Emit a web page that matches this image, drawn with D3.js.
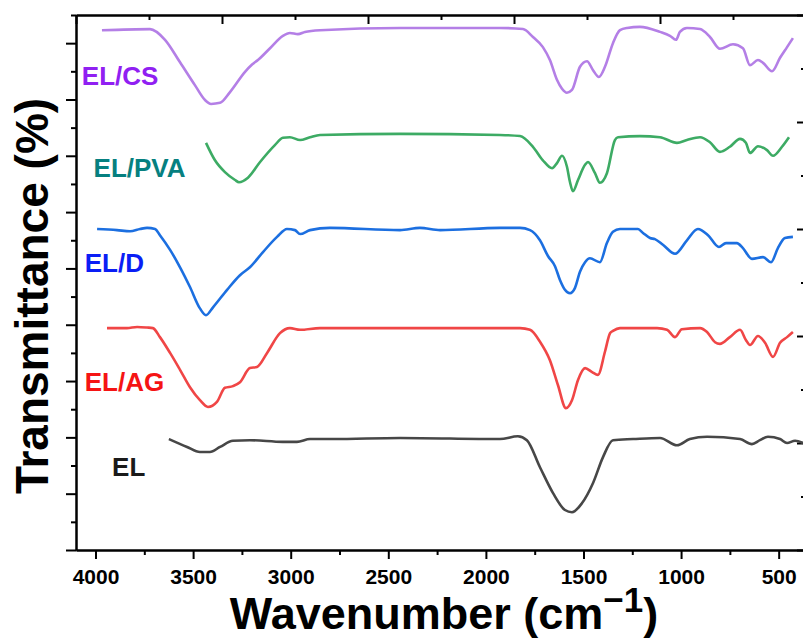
<!DOCTYPE html>
<html>
  <head>
    <meta charset="utf-8">
    <script src="https://d3js.org/d3.v7.min.js"></script>
    <title>FTIR spectra</title>
    <style>
      body { margin: 0; background: #fff; }
      text { font-family: "Liberation Sans", Arial, sans-serif; font-weight: bold; }
      .axis path, .axis line { stroke: #000; stroke-width: 2; }
      .axis text { font-size: 21px; fill: #000; }
    </style>
  </head>
  <body>
    <svg width="803" height="640"></svg>
    <script>
      // wavenumber (cm-1) and transmittance (offset, arb. units)
      const csWave = [3967,3721,3644,3567,3490,3439,3408,3362,3311,3234,3198,3168,3106,3040,3004,2963,2927,2850,2440,1928,1810,1759,1708,1672,1636,1610,1585,1559,1518,1482,1451,1421,1390,1349,1313,1277,1211,1108,1057,1026,1006,970,903,852,801,734,683,647,606,580,534,493,457,427];
      const csT = [92.3,92.5,90.6,86.6,82.5,79.9,79.2,79.4,81.3,84.9,86.2,87.0,89.1,91.3,91.8,91.6,92.0,92.3,92.7,92.7,92.5,91.1,89.3,87.0,83.5,81.9,81.2,81.7,85.8,86.8,85.2,84.0,85.8,90.0,92.3,92.7,92.9,92.0,91.3,90.6,92.0,92.7,92.5,91.1,89.0,89.8,89.1,86.1,87.0,86.5,85.0,87.4,89.3,90.9];

      const pvaWave = [3434,3388,3337,3285,3265,3219,3157,3081,3040,3004,2952,2901,2850,2440,1928,1825,1759,1708,1661,1636,1610,1585,1569,1554,1528,1492,1477,1441,1416,1380,1339,1323,1211,1108,1021,970,903,852,801,750,698,668,647,606,560,529,483,447];
      const pvaT = [72.3,69.2,67.1,65.7,65.3,66.1,68.9,71.9,73.2,73.3,72.8,73.3,73.7,73.9,73.7,73.5,71.6,69.2,67.8,68.7,70.0,68.1,65.3,63.7,65.7,68.4,68.9,66.9,65.2,66.9,72.8,73.3,73.5,73.3,72.3,72.8,73.3,72.4,70.7,71.6,73.0,72.3,70.5,71.7,71.0,70.0,71.6,73.3];

      const dWave = [3992,3890,3823,3772,3736,3695,3670,3618,3567,3516,3465,3434,3398,3326,3260,3209,3142,3070,3019,2978,2952,2901,2799,2440,2338,2235,1928,1825,1774,1723,1682,1646,1620,1595,1569,1544,1518,1492,1467,1416,1380,1349,1313,1221,1195,1159,1134,1093,1031,970,914,862,806,770,714,683,637,580,539,504,468,427];
      const dT = [57.0,56.8,56.6,57.0,57.2,57.0,55.9,53.3,50.2,46.7,42.9,41.7,43.1,46.2,48.8,50.2,52.9,55.6,57.0,56.8,56.1,56.8,57.2,56.8,57.2,56.8,57.2,57.2,56.8,55.0,52.2,50.4,47.9,46.2,45.6,46.5,49.4,51.1,51.8,51.1,54.5,56.5,57.0,57.0,56.3,55.4,55.2,54.2,52.6,55.0,57.0,55.9,53.8,54.5,54.5,53.6,51.7,52.0,51.1,53.6,55.4,55.6];

      const agWave = [3941,3839,3787,3736,3706,3670,3618,3567,3516,3465,3424,3378,3337,3296,3260,3209,3173,3121,3055,3004,2952,2850,1825,1774,1723,1672,1631,1590,1559,1528,1492,1456,1426,1390,1364,1349,1313,1123,1072,1031,996,903,867,826,801,750,698,668,647,606,570,529,493,457,427];
      const agT = [39.4,39.4,39.6,39.5,39.4,37.8,35.0,32.0,28.9,26.6,25.4,26.3,28.8,29.1,29.8,32.3,32.5,35.0,38.5,39.4,39.1,39.4,39.4,39.1,37.0,33.7,29.3,25.2,26.6,30.2,32.3,31.6,31.1,35.2,38.5,38.9,39.4,39.4,39.1,37.8,39.2,39.4,38.7,36.9,36.6,37.8,39.1,37.3,36.4,38.0,36.8,34.3,36.8,37.8,38.7];

      const elWave = [3624,3531,3465,3414,3362,3296,3209,3040,2968,2901,2783,2440,1928,1836,1790,1723,1656,1595,1559,1508,1451,1400,1349,1246,1108,1021,955,867,698,637,596,555,493,457,416,375];
      const elT = [19.7,18.3,17.4,17.4,18.3,19.4,19.5,19.2,19.2,19.7,19.7,19.9,19.7,20.2,19.5,14.7,10.1,7.1,6.7,8.3,11.9,16.5,19.5,19.7,19.9,18.6,19.7,20.1,19.7,18.8,19.5,20.1,19.7,19.0,19.4,19.0];

      const seriesNames = ['EL/CS', 'EL/PVA', 'EL/D', 'EL/AG', 'EL'];
      const lineColors = ['#b47fe6', '#3dab64', '#1c6fe0', '#f04646', '#474747'];
      const labelColors = ['#9020f2', '#068080', '#0a1ef5', '#f51414', '#1a1a1a'];
      // label anchor: wavenumber of left edge, transmittance of baseline
      const labelWave = [4070, 4010, 4055, 4055, 3915];
      const labelT = [82.5, 66.2, 49.4, 28.2, 13.1];

      const xMajor = [4000, 3500, 3000, 2500, 2000, 1500, 1000, 500];
      const xMinor = [3750, 3250, 2750, 2250, 1750, 1250, 750];

      const series = [
        {wave: csWave, t: csT},
        {wave: pvaWave, t: pvaT},
        {wave: dWave, t: dT},
        {wave: agWave, t: agT},
        {wave: elWave, t: elT}
      ];

      const svg = d3.select('svg');
      const x0 = 76, x1 = 806, y0 = 550, y1 = 15;

      const xScale = d3.scaleLinear().domain([4100, 360]).range([x0, x1]);
      const yScale = d3.scaleLinear().domain([0, 95]).range([y0, y1]);
      const topScale = d3.scaleLinear().domain([0, 10]).range([x0, x1]);
      const rightScale = d3.scaleLinear().domain([0, 10]).range([y0, y1]);

      // bottom axis
      svg.append('g').attr('class', 'axis')
        .attr('transform', `translate(0,${y0})`)
        .call(d3.axisBottom(xScale).tickValues(xMinor).tickSize(5).tickSizeOuter(0).tickFormat(''));
      svg.append('g').attr('class', 'axis')
        .attr('transform', `translate(0,${y0})`)
        .call(d3.axisBottom(xScale).tickValues(xMajor).tickSize(9).tickSizeOuter(0).tickPadding(10).tickFormat(d3.format('d')));

      // left axis
      svg.append('g').attr('class', 'axis')
        .attr('transform', `translate(${x0},0)`)
        .call(d3.axisLeft(yScale).tickValues(d3.range(5, 100, 10)).tickSize(5).tickSizeOuter(0).tickFormat(''));
      svg.append('g').attr('class', 'axis')
        .attr('transform', `translate(${x0},0)`)
        .call(d3.axisLeft(yScale).tickValues(d3.range(0, 95, 10)).tickSize(10).tickSizeOuter(0).tickFormat(''));

      // top axis, ticks inward
      svg.append('g').attr('class', 'axis')
        .attr('transform', `translate(0,${y1})`)
        .call(d3.axisTop(topScale).tickValues(d3.range(1, 10, 2)).tickSize(-5).tickSizeOuter(0).tickFormat(''));
      svg.append('g').attr('class', 'axis')
        .attr('transform', `translate(0,${y1})`)
        .call(d3.axisTop(topScale).tickValues(d3.range(0, 11, 2)).tickSize(-9).tickSizeOuter(0).tickFormat(''));

      // right axis, ticks inward
      svg.append('g').attr('class', 'axis')
        .attr('transform', `translate(${x1},0)`)
        .call(d3.axisRight(rightScale).tickValues(d3.range(1, 10, 2)).tickSize(-5).tickSizeOuter(0).tickFormat(''));
      svg.append('g').attr('class', 'axis')
        .attr('transform', `translate(${x1},0)`)
        .call(d3.axisRight(rightScale).tickValues(d3.range(0, 11, 2)).tickSize(-9).tickSizeOuter(0).tickFormat(''));

      const line = d3.line()
        .x(d => xScale(d[0]))
        .y(d => yScale(d[1]))
        .curve(d3.curveMonotoneX);

      series.forEach((s, i) => {
        const pts = s.wave.map((w, j) => [w, s.t[j]]);
        svg.append('path')
          .datum(pts)
          .attr('fill', 'none')
          .attr('stroke', lineColors[i])
          .attr('stroke-width', 2.6)
          .attr('stroke-linejoin', 'round')
          .attr('d', line);

        svg.append('text')
          .attr('x', xScale(labelWave[i]))
          .attr('y', yScale(labelT[i]))
          .attr('fill', labelColors[i])
          .style('font-size', '26px')
          .text(seriesNames[i]);
      });

      // axis titles
      const xt = svg.append('text')
        .attr('x', (x0 + x1) / 2 + 3)
        .attr('y', 629)
        .attr('text-anchor', 'middle')
        .style('font-size', '45px');
      xt.append('tspan').text('Wavenumber (cm');
      xt.append('tspan').attr('dy', -17).style('font-size', '35px').text('\u22121');
      xt.append('tspan').attr('dy', 17).text(')');

      svg.append('text')
        .attr('transform', 'translate(48,296) rotate(-90)')
        .attr('text-anchor', 'middle')
        .style('font-size', '46px')
        .text('Transmittance (%)');
    </script>
  </body>
</html>
